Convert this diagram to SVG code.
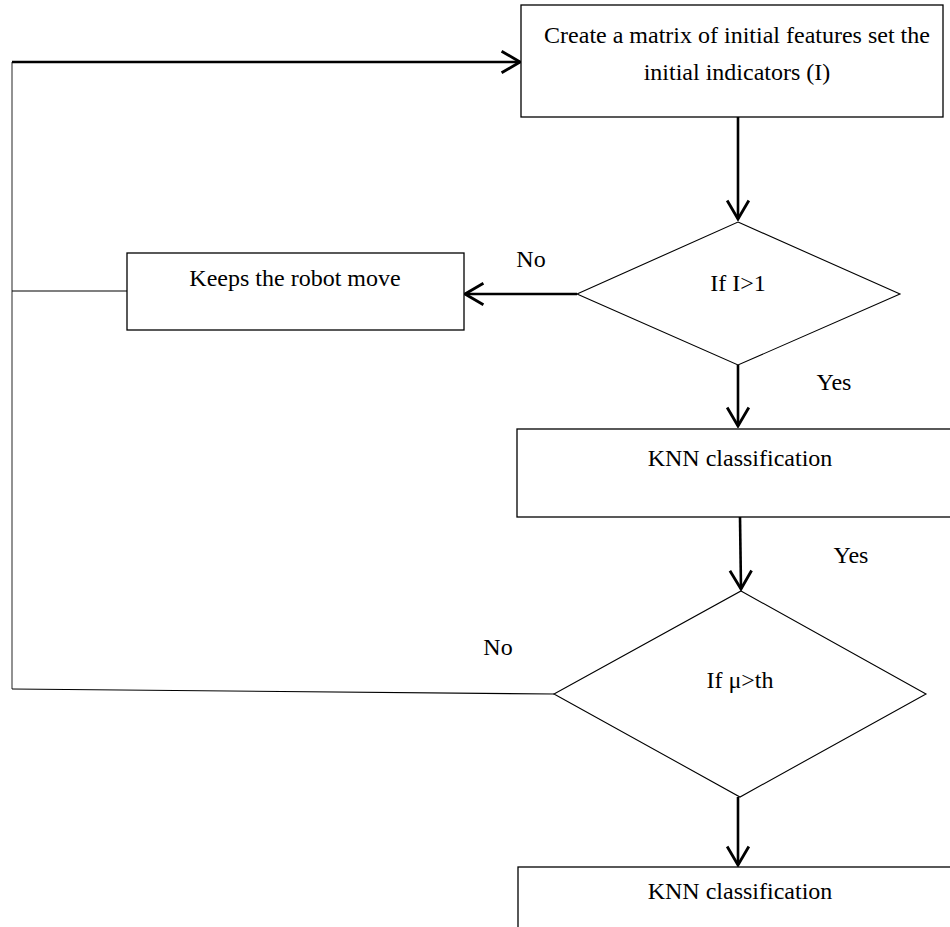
<svg xmlns="http://www.w3.org/2000/svg" width="950" height="927" viewBox="0 0 950 927">
<style>
.box{fill:#fff;stroke:#000;stroke-width:1.3}
.dia{fill:#fff;stroke:#000;stroke-width:1.1}
.t{font-family:"Liberation Serif","Times New Roman",serif;font-size:24px;fill:#000;text-anchor:middle}
.arr{stroke:#000;stroke-width:2.6;fill:none;marker-end:url(#chev)}
.thin{stroke:#000;stroke-width:1.1;fill:none}
.gray{stroke:#777;stroke-width:1.6;fill:none}
</style>
<defs>
<marker id="chev" markerUnits="userSpaceOnUse" markerWidth="24" markerHeight="26" viewBox="-20 -12 22 24" refX="0" refY="0" orient="auto">
<polyline points="-17,-10 0,0 -17,10" fill="none" stroke="#000" stroke-width="2.6"/>
</marker>
</defs>
<rect width="950" height="927" fill="#fff"/>
<g id="connectors">
<polyline class="gray" points="12,689 12,62"/>
<line class="arr" x1="12" y1="62" x2="520" y2="62"/>
<line class="thin" x1="12" y1="291" x2="127" y2="291"/>
<line class="arr" x1="738" y1="117" x2="738" y2="219"/>
<line class="arr" x1="577" y1="294" x2="465" y2="294"/>
<line class="arr" x1="738" y1="365" x2="738" y2="426"/>
<line class="arr" x1="740" y1="517" x2="741" y2="589"/>
<line class="thin" x1="12" y1="689" x2="554" y2="694"/>
<line class="arr" x1="738" y1="797" x2="738" y2="865"/>
<text class="t" x="531" y="267">No</text>
<text class="t" x="834" y="390">Yes</text>
<text class="t" x="851" y="563">Yes</text>
<text class="t" x="498" y="655">No</text>
</g>
<g id="n1">
<rect class="box" x="521" y="5" width="422" height="112"/>
<text class="t" x="737" y="43">Create a matrix of initial features set the</text>
<text class="t" x="737" y="80">initial indicators (I)</text>
</g>
<g id="n2">
<polygon class="dia" points="738,222 900,294 738,365 577,294"/>
<text class="t" x="738" y="291">If I&gt;1</text>
</g>
<g id="n3">
<rect class="box" x="127" y="253" width="337" height="77"/>
<text class="t" x="295" y="286">Keeps the robot move</text>
</g>
<g id="n4">
<rect class="box" x="517" y="429" width="450" height="88"/>
<text class="t" x="740" y="466">KNN classification</text>
</g>
<g id="n5">
<polygon class="dia" points="741,591 926,694 740,797 554,694"/>
<text class="t" x="740" y="688">If μ&gt;th</text>
</g>
<g id="n6">
<rect class="box" x="518" y="867" width="450" height="80"/>
<text class="t" x="740" y="899">KNN classification</text>
</g>
</svg>
